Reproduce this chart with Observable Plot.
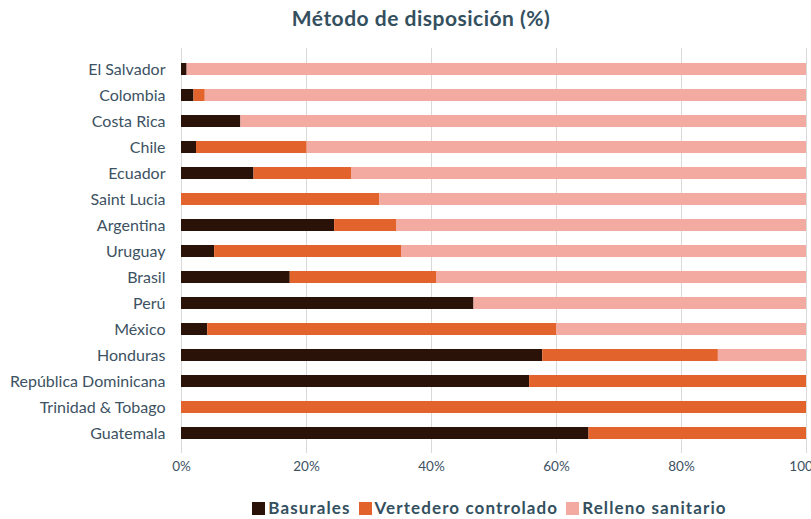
<!DOCTYPE html>
<html><head><meta charset="utf-8">
<script src="https://cdn.jsdelivr.net/npm/d3@7"></script>
<script src="https://cdn.jsdelivr.net/npm/@observablehq/plot@0.6"></script>
<style>
body{margin:0;background:#fff;font-family:Lato,sans-serif;color:#3d5262;}
#title{width:811px;box-sizing:border-box;padding-left:31px;text-align:center;height:36px;line-height:36px;font-size:21px;letter-spacing:0.5px;font-weight:bold;color:#34505f;}
#legend{width:811px;box-sizing:border-box;padding-left:168px;text-align:center;margin-top:15px;line-height:20px;font-size:17px;letter-spacing:1.1px;font-weight:bold;color:#34505f;white-space:nowrap;}
#legend span.sw{display:inline-block;width:13px;height:13px;margin-right:3px;vertical-align:-1px;}
#legend span.item{margin:0 4px;}
svg{display:block;}
</style></head><body>
<div id="title">Método de disposición (%)</div>
<div id="chart"></div>
<div id="legend"></div>
<script>
const countries = ["El Salvador","Colombia","Costa Rica","Chile","Ecuador","Saint Lucia","Argentina","Uruguay","Brasil","Perú","México","Honduras","República Dominicana","Trinidad & Tobago","Guatemala"];
const basurales = [0.9, 2.0, 9.5, 2.4, 11.6, 0, 24.5, 5.3, 17.4, 46.8, 4.2, 57.8, 55.7, 0, 65.2];
const vertedero = [0, 1.8, 0, 17.7, 15.6, 31.7, 9.9, 29.9, 23.4, 0, 55.8, 28.1, 44.3, 100, 34.8];
const relleno = [99.1, 96.2, 90.5, 79.9, 72.8, 68.3, 65.6, 64.8, 59.2, 53.2, 40.0, 14.1, 0, 0, 0];
const seriesNames = ["Basurales","Vertedero controlado","Relleno sanitario"];
const seriesColors = ["#2b1209","#e2632b","#f3aaa1"];
const xTicks = [0,20,40,60,80,100];

const seriesValues = [basurales, vertedero, relleno];
const data = [];
countries.forEach((c,i)=>{
  seriesNames.forEach((s,j)=>{ data.push({country:c, serie:s, value:seriesValues[j][i]}); });
});

const plot = Plot.plot({
  width: 811, height: 447,
  marginLeft: 181, marginRight: 5, marginTop: 11.8, marginBottom: 30,
  style: {fontFamily: "Lato, sans-serif", fontSize: "13px", color: "#3d5262", background: "#fff"},
  x: {domain:[0,100], ticks: xTicks, tickFormat: d => d + "%", tickSize: 0, tickPadding: 8, label: null},
  y: {domain: countries, padding: 0.55, tickSize: 0, tickPadding: 16, label: null},
  color: {domain: seriesNames, range: seriesColors},
  marks: [
    Plot.gridX(xTicks, {stroke: "#d9d9d9", strokeOpacity: 1}),
    Plot.barX(data, Plot.stackX({x: "value", y: "country", fill: "serie", order: seriesNames}))
  ]
});
d3.select(plot).selectAll('g[aria-label^="y-axis"] text').style("font-size","16px");
d3.select(plot).selectAll('g[aria-label^="x-axis"] text').style("font-size","13.5px");
document.getElementById("chart").appendChild(plot);

const leg = d3.select("#legend");
seriesNames.forEach((s,j)=>{
  const it = leg.append("span").attr("class","item");
  it.append("span").attr("class","sw").style("background", seriesColors[j]);
  it.append("span").text(s);
});
</script>
</body></html>
